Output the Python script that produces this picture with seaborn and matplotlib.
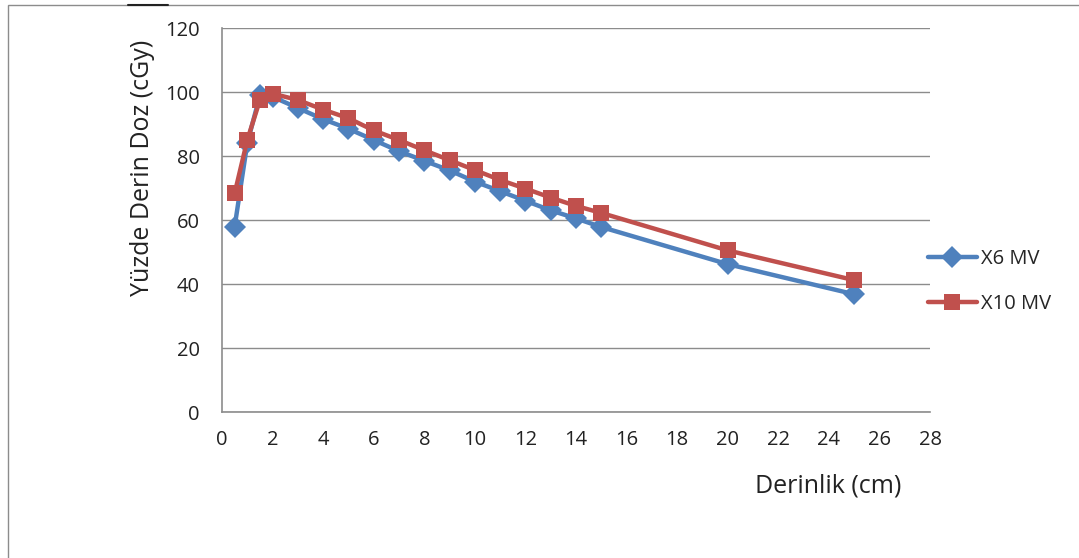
"""
Percent depth dose curves for X6 MV and X10 MV photon beams.
"""

import matplotlib.pyplot as plt
import pandas as pd
import seaborn as sns

# depth (cm)
depth = [0.5, 1, 1.5, 2, 3, 4, 5, 6, 7, 8, 9, 10, 11, 12, 13, 14, 15, 20, 25]
# percent depth dose
x6_mv = [57.9, 84.0, 99.0, 98.5, 95.0, 91.5, 88.5, 85.0, 81.5, 78.5, 75.5,
         72.0, 69.0, 66.0, 63.0, 60.5, 57.8, 46.2, 36.8]
x10_mv = [68.3, 85.0, 97.5, 99.5, 97.5, 94.5, 91.8, 88.0, 85.0, 81.8, 78.7,
          75.6, 72.5, 69.8, 67.0, 64.4, 62.2, 50.5, 41.2]
series_names = ["X6 MV", "X10 MV"]

df = pd.concat(
    [
        pd.DataFrame({"Derinlik": depth, "Doz": x6_mv, "Seri": series_names[0]}),
        pd.DataFrame({"Derinlik": depth, "Doz": x10_mv, "Seri": series_names[1]}),
    ],
    ignore_index=True,
)

sns.set_style("white")
plt.rcParams["font.family"] = ["Open Sans", "DejaVu Sans"]

fig = plt.figure(figsize=(10.79, 5.58), dpi=100)
ax = fig.add_axes([222 / 1079, 1 - 412 / 558, (930 - 222) / 1079, (412 - 28) / 558])

sns.lineplot(
    data=df,
    x="Derinlik",
    y="Doz",
    hue="Seri",
    style="Seri",
    hue_order=series_names,
    style_order=series_names,
    palette={"X6 MV": "#4F81BD", "X10 MV": "#C0504D"},
    markers={"X6 MV": "D", "X10 MV": "s"},
    dashes=False,
    linewidth=3.2,
    markersize=11,
    markeredgewidth=0,
    ax=ax,
)

ax.set_xlim(0, 28)
ax.set_ylim(0, 120)
ax.set_xticks(range(0, 29, 2))
ax.set_yticks(range(0, 121, 20))
ax.yaxis.grid(True, color="#8c8c8c", linewidth=1.0)
ax.set_axisbelow(True)
for side in ["top", "right"]:
    ax.spines[side].set_visible(False)
for side in ["left", "bottom"]:
    ax.spines[side].set_color("#8c8c8c")
    ax.spines[side].set_linewidth(1.2)
ax.tick_params(axis="both", direction="out", width=1.2,
               color="#8c8c8c", labelsize=14.5, labelcolor="#222222")
ax.tick_params(axis="x", length=7, pad=6)
ax.tick_params(axis="y", length=5, pad=11)

ax.set_xlabel("Derinlik (cm)", fontsize=18, color="#222222")
ax.xaxis.set_label_coords(0.856, -0.16)
ax.set_ylabel("Yüzde Derin Doz (cGy)", fontsize=18, color="#222222")
ax.yaxis.set_label_coords(-0.095, 0.635)

handles, labels = ax.get_legend_handles_labels()
ax.legend(
    handles,
    labels,
    loc="center left",
    bbox_to_anchor=(0.972, 0.34),
    frameon=False,
    fontsize=14.5,
    handlelength=2.4,
    handletextpad=0.2,
    labelspacing=1.25,
)

# chart frame
frame = plt.Rectangle((8 / 1079, -0.01), 1.2, 1 - 5 / 558 + 0.01,
                      transform=fig.transFigure, fill=False,
                      edgecolor="#8c8c8c", linewidth=1.0)
fig.patches.append(frame)
fig.add_artist(plt.Line2D([128 / 1079, 168 / 1079], [1 - 5 / 558, 1 - 5 / 558],
                          transform=fig.transFigure, color="#222222", linewidth=1.5))

fig.savefig("out.png", dpi=100)
plt.close(fig)
